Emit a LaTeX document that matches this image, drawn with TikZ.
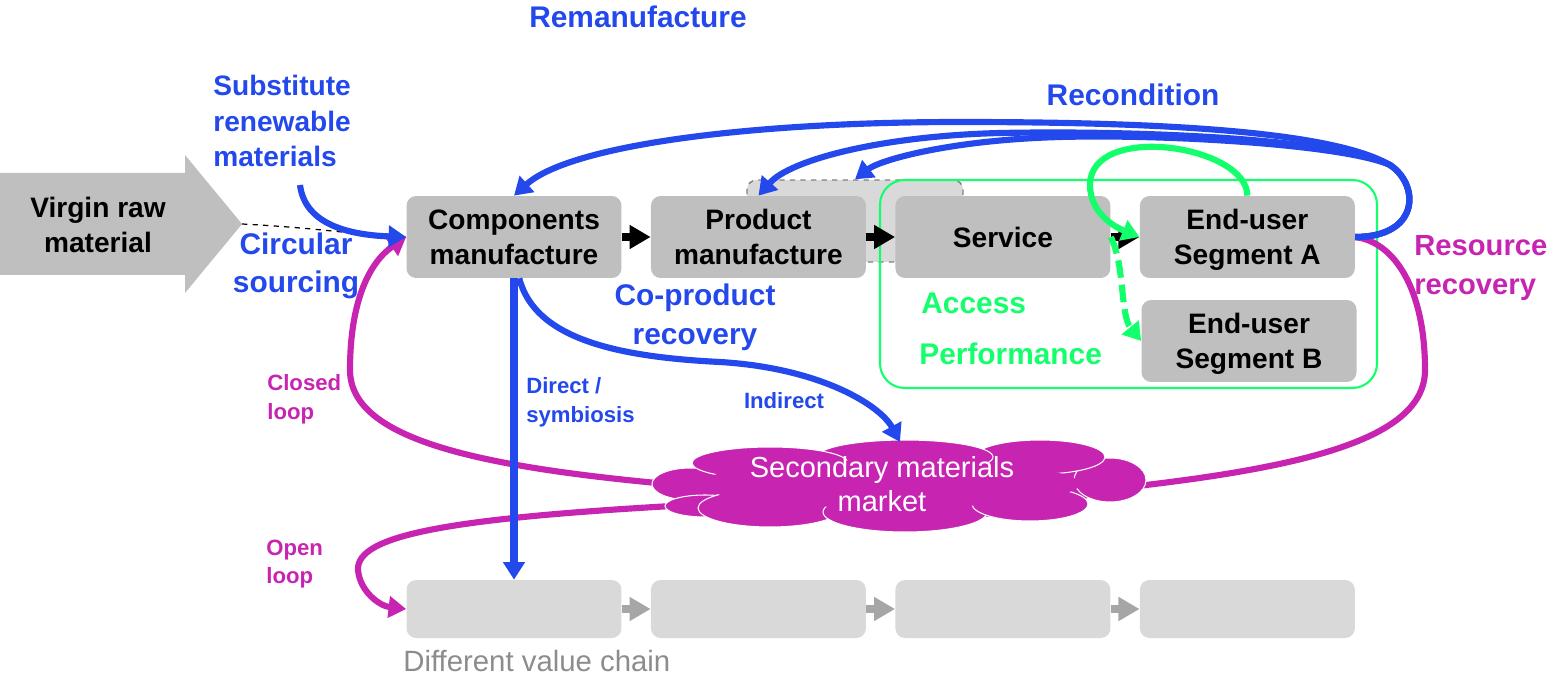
\documentclass[tikz,border=0pt]{standalone}
\usepackage{fontspec}
\setmainfont{Liberation Sans}
\usetikzlibrary{positioning,arrows.meta}
\definecolor{boxgray}{HTML}{BFBFBF}
\definecolor{chaingray}{HTML}{D9D9D9}
\definecolor{arrowgray}{HTML}{A6A6A6}
\definecolor{textgray}{HTML}{8C8C8C}
\definecolor{loopblue}{HTML}{2348EB}
\definecolor{looppink}{HTML}{C724B1}
\definecolor{loopgreen}{HTML}{14FF6C}
\begin{document}
\begin{tikzpicture}[x=0.02cm, y=-0.02cm, node distance=4.89cm,
    box/.style={fill=boxgray, rounded corners=5.5pt, minimum width=4.3cm, minimum height=1.64cm, inner sep=0pt, text depth=0pt, align=center, font=\fontsize{16}{19.8}\selectfont\bfseries},
    chainbox/.style={fill=chaingray, rounded corners=5.5pt, minimum width=4.3cm, minimum height=1.16cm},
    blockarrow/.style={-{Triangle[length=12pt,width=13pt]}, line width=5pt},
    back/.style={line width=3.5pt, -{Triangle[length=10pt,width=12pt]}},
    puff/.style={fill=looppink, draw=white, line width=0.6pt},
    lbl/.style={font=\fontsize{17}{22}\selectfont\bfseries, align=center, inner sep=0pt},
    small/.style={font=\fontsize{12.6}{16.4}\selectfont\bfseries, align=left, inner sep=0pt}]
  \useasboundingbox (0,0) rectangle (1550,675);

  \fill[boxgray] (0,173) -- (185,173) -- (185,155) -- (242,224) -- (185,293) -- (185,275) -- (0,275) -- cycle;
  \node[font=\fontsize{16}{19.8}\selectfont\bfseries, align=center] (virgin) at (98,225) {Virgin raw\\material};
  \coordinate (tip) at (242,224);

  \node[chainbox, draw=gray, dashed, thick, minimum width=4.32cm, minimum height=1.64cm] (prodalt) at (855,221) {};
  \draw[loopgreen, line width=1.2pt, rounded corners=14pt] (880,180) rectangle (1377,388);

  \node[box] (comp) at (514,237) {Components\\manufacture};
  \node[box] (prod) [right of=comp] {Product\\manufacture};
  \node[box] (serv) [right of=prod] {Service};
  \node[box] (usera) [right of=serv] {End-user\\Segment A};
  \node[box] (userb) at (1249,341) {End-user\\Segment B};

  \node[chainbox] (c1) at (514,609) {};
  \node[chainbox] (c2) [right of=c1] {};
  \node[chainbox] (c3) [right of=c2] {};
  \node[chainbox] (c4) [right of=c3] {};

  \draw[blockarrow] (comp) -- (prod);
  \draw[blockarrow] (prod) -- (serv);
  \draw[blockarrow] (serv) -- (usera);
  \draw[blockarrow, arrowgray] (c1) -- (c2);
  \draw[blockarrow, arrowgray] (c2) -- (c3);
  \draw[blockarrow, arrowgray] (c3) -- (c4);

  \coordinate (closedstart) at (690,486);
  \coordinate (openstart) at (690,505);
  \coordinate (resend) at (1120,488);
  \draw[back, looppink] (closedstart) .. controls (480,468) and (350,440) .. (350,370) .. controls (350,300) and (370,262) .. (comp.west);
  \draw[back, looppink] (openstart) .. controls (450,518) and (356,535) .. (358,570) .. controls (360,592) and (380,606) .. (c1.west);
  \draw[line width=3.5pt, looppink] (usera.east) .. controls (1395,242) and (1425,290) .. (1425,370) .. controls (1425,440) and (1300,468) .. (resend);

  \fill[looppink] (900,486) ellipse [x radius=200, y radius=34];
  \draw[puff] (690,484) ellipse [x radius=38, y radius=16];
  \draw[puff] (705,506) ellipse [x radius=40, y radius=11];
  \draw[puff] (770,508) ellipse [x radius=72, y radius=19];
  \draw[puff] (905,512) ellipse [x radius=82, y radius=20];
  \draw[puff] (1030,504) ellipse [x radius=58, y radius=17];
  \draw[puff] (1110,480) ellipse [x radius=36, y radius=22];
  \draw[puff] (1040,457) ellipse [x radius=65, y radius=17];
  \draw[puff] (905,457) ellipse [x radius=88, y radius=17];
  \draw[puff] (770,463) ellipse [x radius=78, y radius=16];
  \fill[looppink] (890,484) ellipse [x radius=190, y radius=24];
  \node[text=white, align=center, font=\fontsize{16.5}{19.3}\selectfont] (mkt) at (882,484) {Secondary materials\\market};

  \draw[dashed, line width=0.7pt, -{Triangle[length=9pt,width=7pt]}] (tip) .. controls (320,228) and (370,236) .. (comp.west);
  \coordinate (subst) at (300,185);
  \draw[back, loopblue] (subst) .. controls (305,225) and (350,235) .. (comp.west);
  \draw[back, loopblue, line width=4.2pt] (comp.south) -- (c1.north);
  \draw[back, loopblue] ([xshift=3]comp.south) .. controls (535,340) and (620,357) .. (720,362) .. controls (820,368) and (880,405) .. (900,442);

  \draw[back, loopblue] (usera.east) .. controls (1420,237) and (1420,185) .. (1390,165) .. controls (1330,130) and (1150,122) .. (960,122) .. controls (750,122) and (570,145) .. (comp.north);
  \draw[back, loopblue] (usera.east) .. controls (1420,237) and (1420,185) .. (1390,165) .. controls (1340,140) and (1150,130) .. (1000,133) .. controls (880,136) and (790,160) .. (prod.north);
  \draw[back, loopblue] (usera.east) .. controls (1420,237) and (1420,185) .. (1390,165) .. controls (1345,145) and (1170,134) .. (1060,137) .. controls (950,140) and (880,160) .. (prodalt.north);

  \draw[back, loopgreen] (usera.north) .. controls (1247,145) and (1090,122) .. (1090,185) .. controls (1090,210) and (1110,225) .. (usera.west);
  \draw[back, loopgreen, dash pattern=on 10pt off 4pt] (serv.east) .. controls (1125,265) and (1120,315) .. (userb.west);

  \node[lbl, loopblue] (reman) at (638,17) {Remanufacture};
  \node[lbl, loopblue] (recond) at (1133,95) {Recondition};
  \node[lbl, loopblue, font=\fontsize{16}{20.4}\selectfont\bfseries, align=left, anchor=west] (substlbl) at (213,121) {Substitute\\renewable\\materials};
  \node[lbl, loopblue] (circ) at (296,266) {Circular\\sourcing};
  \node[lbl, loopblue] (coprod) at (695,317) {Co-product\\recovery};
  \node[small, loopblue, anchor=west] (direct) at (526,402) {Direct /\\symbiosis};
  \node[small, loopblue] (indir) at (784,401) {Indirect};
  \node[small, looppink, anchor=west] (closed) at (267,399) {Closed\\loop};
  \node[small, looppink, anchor=west] (open) at (266,564) {Open\\loop};
  \node[lbl, looppink, anchor=west, align=left, font=\fontsize{16.6}{22}\selectfont\bfseries] (resrec) at (1414,268) {Resource\\recovery};
  \node[lbl, loopgreen, anchor=west] (access) at (921,303) {Access};
  \node[lbl, loopgreen, anchor=west] (perf) at (919,354) {Performance};
  \node[textgray, font=\fontsize{16.7}{20}\selectfont, anchor=west, inner sep=0pt] (diffchain) at (403,661) {Different value chain};
\end{tikzpicture}
\end{document}
